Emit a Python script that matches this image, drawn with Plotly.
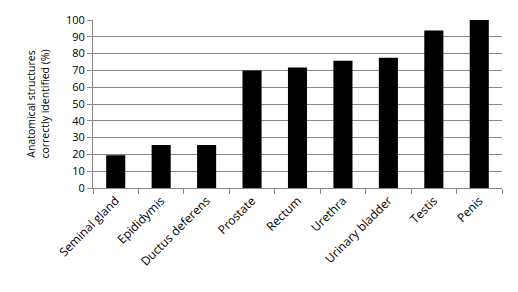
import plotly.graph_objects as go

categories = ["Seminal gland", "Epididymis", "Ductus deferens", "Prostate", "Rectum",
              "Urethra", "Urinary bladder", "Testis", "Penis"]
values = [19.5, 25.6, 25.6, 70, 71.7, 75.8, 77.5, 93.8, 100]
y_ticks = [0, 10, 20, 30, 40, 50, 60, 70, 80, 90, 100]

fig = go.Figure(go.Bar(x=categories, y=values, marker=dict(color="black", line=dict(width=0)),
                       width=0.42))

font = dict(family="Open Sans, Liberation Sans, sans-serif", size=10.5, color="black")
xfont = dict(family="Open Sans, Liberation Sans, sans-serif", size=12, color="black")
yfont = dict(family="Open Sans, Liberation Sans, sans-serif", size=11, color="black")
fig.update_layout(
    width=518, height=292,
    margin=dict(l=93, r=16, t=16, b=104),
    paper_bgcolor="white", plot_bgcolor="white",
    font=font, showlegend=False,
)
fig.update_xaxes(
    tickangle=-45, showline=True, linecolor="#868686", linewidth=1,
    ticks="outside", tickson="boundaries", ticklen=5, tickcolor="#868686",
    showgrid=False, tickfont=xfont,
)
fig.update_yaxes(
    range=[0, 100], tickvals=y_ticks, showline=True, linecolor="#868686", linewidth=1,
    ticks="outside", ticklen=5, tickcolor="#868686",
    showgrid=True, gridcolor="#868686", gridwidth=1, zeroline=False,
    tickfont=yfont,
    title=dict(text="Anatomical structures<br>correctly identified (%)", font=font, standoff=14),
)
fig.write_html("out.html")
